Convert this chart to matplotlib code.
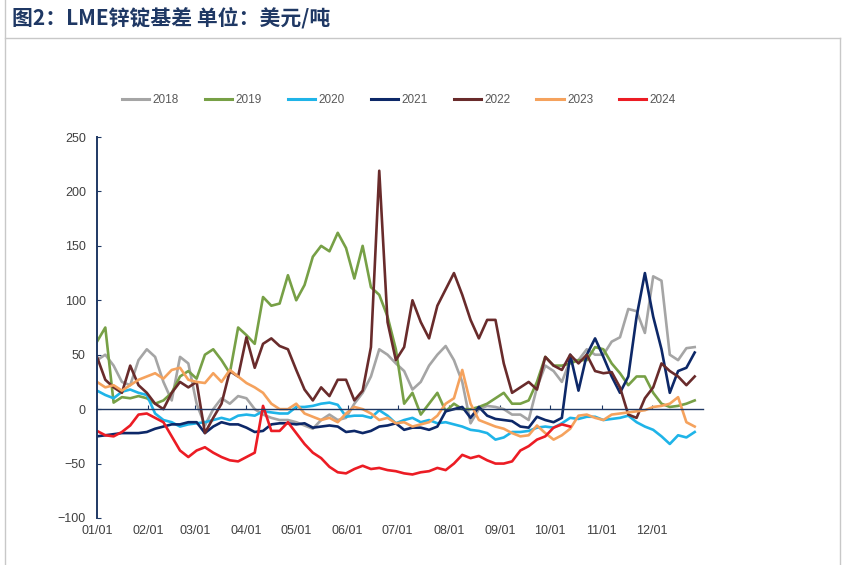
import numpy as np
import matplotlib
matplotlib.use("Agg")
import matplotlib.pyplot as plt
from matplotlib.lines import Line2D

# day of year, one sample every 5 days
days = np.arange(0, 361, 5)

s2018 = [45, 50, 40, 25, 22, 45, 55, 48, 25, 8, 48, 42, 5, -15, 0, 10, 5, 12, 10,
         0, -5, -8, -10, -10, -12, -15, -18, -10, -5, -10, -8, 5, 15, 30, 55, 50,
         42, 35, 18, 25, 40, 50, 58, 45, 25, -13, 0, 3, 2, 0, -5, -5, -10, 20, 40,
         35, 25, 45, 45, 55, 50, 50, 62, 66, 92, 90, 70, 122, 118, 50, 45, 56, 57]
s2019 = [62, 75, 6, 11, 10, 12, 10, 5, 8, 15, 30, 35, 28, 50, 55, 45, 33, 75, 68,
         60, 103, 95, 97, 123, 100, 114, 140, 150, 145, 162, 148, 120, 150, 112,
         105, 85, 55, 5, 15, -5, 5, 15, -2, 5, 0, 0, 2, 5, 10, 15, 5, 5, 8, 25, 48,
         40, 40, 42, 45, 45, 57, 55, 42, 33, 22, 30, 30, 15, 5, 2, 3, 5, 8]
s2020 = [17, 13, 10, 16, 18, 15, 13, -4, -10, -12, -16, -14, -13, -12, -10, -8,
         -10, -6, -5, -6, -2, -3, -4, -4, 2, 2, 3, 5, 6, 4, -7, -6, -6, -8, -1, -6,
         -13, -10, -8, -12, -10, -13, -12, -14, -16, -19, -20, -22, -28, -26, -21,
         -21, -20, -17, -16, -17, -13, -8, -9, -7, -7, -10, -9, -8, -6, -12, -16,
         -19, -25, -32, -24, -26, -21]
s2021 = [-25, -24, -23, -22, -22, -22, -21, -18, -16, -14, -14, -12, -12, -22,
         -16, -12, -14, -14, -17, -21, -20, -14, -13, -13, -14, -13, -17, -16, -15,
         -16, -21, -20, -22, -20, -16, -15, -13, -19, -17, -17, -19, -16, -2, 0, 2,
         -8, 2, -6, -9, -10, -11, -16, -17, -7, -10, -12, -8, 50, 17, 50, 65, 48,
         30, 15, 30, 85, 125, 85, 55, 15, 35, 38, 52]
s2022 = [48, 27, 20, 15, 40, 22, 15, 5, 0, 15, 25, 20, 25, -22, -8, 5, 35, 30,
         66, 38, 60, 65, 58, 55, 36, 18, 8, 20, 12, 27, 27, 8, 17, 57, 219, 80, 45,
         57, 100, 80, 65, 95, 110, 125, 105, 82, 65, 82, 82, 42, 15, 20, 25, 18, 48,
         40, 36, 50, 42, 50, 35, 33, 34, 20, -5, -8, 10, 20, 42, 35, 30, 22, 30]
s2023 = [25, 20, 22, 17, 22, 27, 30, 33, 28, 36, 38, 27, 25, 24, 33, 25, 36, 30,
         24, 20, 15, 5, 0, 0, 5, -4, -7, -10, -8, -12, -4, 2, 0, -4, -10, -8, -13,
         -12, -16, -14, -12, -6, 5, 10, 36, 5, -10, -13, -16, -18, -22, -25, -24,
         -15, -22, -28, -24, -18, -6, -5, -8, -10, -5, -4, -3, -2, -1, 2, 3, 5, 11,
         -12, -16]
s2024 = [-20, -24, -25, -21, -15, -5, -4, -8, -12, -25, -38, -44, -38, -35, -40,
         -44, -47, -48, -44, -40, 3, -20, -20, -12, -22, -32, -40, -45, -53, -58,
         -59, -55, -52, -55, -54, -56, -57, -59, -60, -58, -57, -54, -56, -50, -42,
         -45, -43, -47, -50, -50, -48, -38, -34, -28, -25, -17, -14, -16]

years = ['2018', '2019', '2020', '2021', '2022', '2023', '2024']
series = [s2018, s2019, s2020, s2021, s2022, s2023, s2024]
colors = ['#A5A5A5', '#77A046', '#1FB4E8', '#0D2868', '#692B2B', '#F5A25D', '#EC1C24']

month_days = [0, 31, 59, 90, 120, 151, 181, 212, 243, 273, 304, 334]
month_labels = ['01/01', '02/01', '03/01', '04/01', '05/01', '06/01',
                '07/01', '08/01', '09/01', '10/01', '11/01', '12/01']

navy = '#1F3864'
tick_color = '#404040'

fig = plt.figure(figsize=(8.45, 5.65), dpi=100)
ax = fig.add_axes([97 / 845, 47 / 565, 606 / 845, 381 / 565])

for name, vals, color in zip(years, series, colors):
    ax.plot(days[:len(vals)], vals, color=color, lw=1.9, label=name,
            solid_joinstyle='round')

ax.set_xlim(0, 365)
ax.set_ylim(-100, 250)
ax.set_yticks(np.arange(-100, 251, 50))

# x axis line sits on zero, labels stay at the bottom
ax.spines['bottom'].set_position(('data', 0))
ax.spines['bottom'].set_color(navy)
ax.spines['bottom'].set_linewidth(1.0)
ax.spines['left'].set_color(navy)
ax.spines['left'].set_linewidth(1.4)
ax.spines['top'].set_visible(False)
ax.spines['right'].set_visible(False)

ax.set_xticks(month_days)
ax.tick_params(axis='x', direction='in', length=3, color=navy, labelbottom=False)
ax.tick_params(axis='y', direction='in', length=3, color=navy, pad=8,
               labelsize=9, labelcolor=tick_color)
for lab in ax.get_yticklabels():
    lab.set_fontfamily('Liberation Sans')

sec = ax.secondary_xaxis(0.0)
sec.set_xticks(month_days)
sec.set_xticklabels(month_labels)
sec.tick_params(length=0, pad=5, labelsize=9, labelcolor=tick_color)
sec.spines['bottom'].set_visible(False)
for lab in sec.get_xticklabels():
    lab.set_fontfamily('Liberation Sans')

handles = [Line2D([], [], color=c, lw=2.2) for c in colors]
fig.legend(handles, years, loc='center', bbox_to_anchor=(399 / 845, 1 - 100 / 565),
           ncol=7, frameon=False, handlelength=2.3, handletextpad=0.3,
           columnspacing=2.2, prop={'family': 'Liberation Sans', 'size': 8.5},
           labelcolor='#595959')

fig.text(12 / 845, 1 - 18 / 565, '图2：LME锌锭基差 单位：美元/吨',
         family=['Noto Sans CJK SC', 'DejaVu Sans'], weight='bold', fontsize=15,
         color=navy, ha='left', va='center')

# thin frame around the chart panel
frame_c = '#C8C8C8'
fig.add_artist(Line2D([5 / 845, 5 / 845], [0, 1], color=frame_c, lw=1.0))
fig.add_artist(Line2D([5 / 845, 840 / 845], [1 - 38 / 565, 1 - 38 / 565],
                      color=frame_c, lw=1.0))
fig.add_artist(Line2D([840 / 845, 840 / 845], [0, 1 - 38 / 565], color=frame_c, lw=1.0))

fig.savefig('out.png', dpi=100)
